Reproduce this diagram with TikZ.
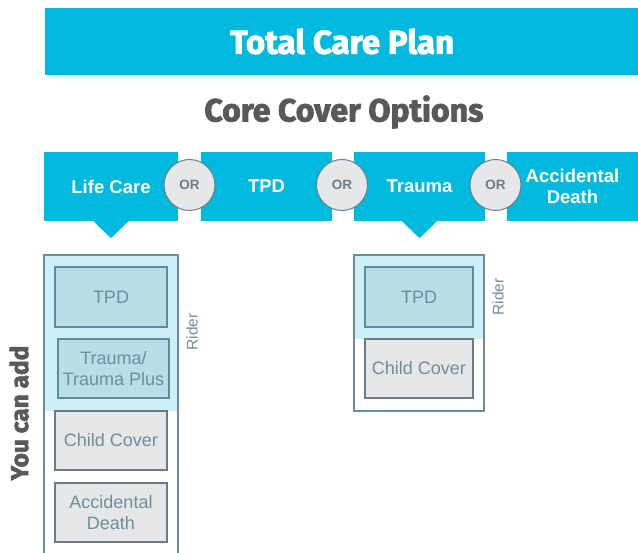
\documentclass[tikz,border=0pt]{standalone}
\usepackage{fontspec}
\setmainfont{Liberation Sans}
\newfontfamily\headfont{Fira Sans}[BoldFeatures={FakeBold=2.5}]
\definecolor{tcyan}{HTML}{00B9DF}
\definecolor{tlight}{HTML}{CCEFF8}
\definecolor{tinner}{HTML}{B8DEE8}
\definecolor{tinnerln}{HTML}{5E8C9C}
\definecolor{tgray}{HTML}{E6E7E9}
\definecolor{tgrayln}{HTML}{6C7C84}
\definecolor{tframe}{HTML}{6C8C9A}
\definecolor{ttext}{HTML}{6F8E9B}
\definecolor{tdark}{HTML}{58595B}
\definecolor{tor}{HTML}{6D7E88}
\tikzset{
  optbox/.style={fill=tcyan, minimum width=131pt, minimum height=69pt, inner sep=0pt,
    text=white, font=\fontsize{18.5}{21}\selectfont\bfseries, align=center},
  orcirc/.style={circle, fill=tgray, draw=tor, line width=1pt, minimum size=51pt, inner sep=0pt,
    text=tor, font=\fontsize{13.5}{15}\selectfont\bfseries},
  ridbox/.style={fill=tinner, draw=tinnerln, line width=1.1pt, minimum height=59pt, inner sep=0pt,
    text=ttext, font=\fontsize{18}{20.5}\selectfont, align=center},
  addbox/.style={fill=tgray, draw=tgrayln, line width=1.1pt, minimum height=59pt, inner sep=0pt,
    text=ttext, font=\fontsize{18}{20.5}\selectfont, align=center},
  framel/.style={draw=tframe, line width=1.2pt},
  ridlbl/.style={rotate=90, text=ttext, font=\fontsize{15.5}{17}\selectfont}
}
\begin{document}
\begin{tikzpicture}[x=1pt,y=-1pt]
\useasboundingbox (0,0) rectangle (638,553);
% title
\node[fill=tcyan, minimum width=594pt, minimum height=67pt, inner sep=0pt,
  text=white, font=\headfont\bfseries\fontsize{33}{36}\selectfont] (title) at (342,41.5) {Total Care Plan};
\node[text=tdark, font=\headfont\bfseries\fontsize{32}{35}\selectfont] (core) at (344,112) {Core Cover Options};
% options
\node[optbox, minimum width=134pt] (lc) at (111,186.5) {Life Care};
\node[optbox] (tpd) at (266.5,186.5) {TPD};
\node[optbox] (tr) at (419.5,186.5) {Trauma};
\node[optbox] (ad) at (572.5,186.5) {Accidental\\Death};
\node[orcirc] (or1) at (189.5,185) {OR};
\node[orcirc] (or2) at (342,185) {OR};
\node[orcirc] (or3) at (495.5,185) {OR};
\fill[tcyan] ([xshift=-17.5pt]lc.south) -- ([xshift=17.5pt]lc.south) -- ([yshift=-17pt]lc.south) -- cycle;
\fill[tcyan] ([xshift=-17.5pt]tr.south) -- ([xshift=17.5pt]tr.south) -- ([yshift=-17pt]tr.south) -- cycle;
% left column
\fill[tlight] (44,255) rectangle (178,411);
\draw[framel] (44,553) -- (44,255) -- (178,255) -- (178,553);
\node[ridbox, minimum width=112pt, minimum height=60pt] (ltpd) at (111,297) {TPD};
\node[ridbox, minimum width=111pt] (ltr) at (113.5,368.5) {Trauma/\\Trauma Plus};
\node[addbox, minimum width=112pt] (lcc) at (111,440.5) {Child Cover};
\node[addbox, minimum width=112pt] (lad) at (111,512.5) {Accidental\\Death};
\node[ridlbl] (lrider) at (192,332) {Rider};
\node[rotate=90, text=tdark, font=\headfont\bfseries\fontsize{24.5}{27}\selectfont] (add) at (19,413) {You can add};
% right column
\fill[tlight] (354,255) rectangle (484,339);
\draw[framel] (354,255) rectangle (484,411);
\node[ridbox, minimum width=108pt, minimum height=60pt] (rtpd) at (419,297) {TPD};
\node[addbox, minimum width=108pt] (rcc) at (419,368.5) {Child Cover};
\node[ridlbl] (rrider) at (498,297) {Rider};
\end{tikzpicture}
\end{document}
